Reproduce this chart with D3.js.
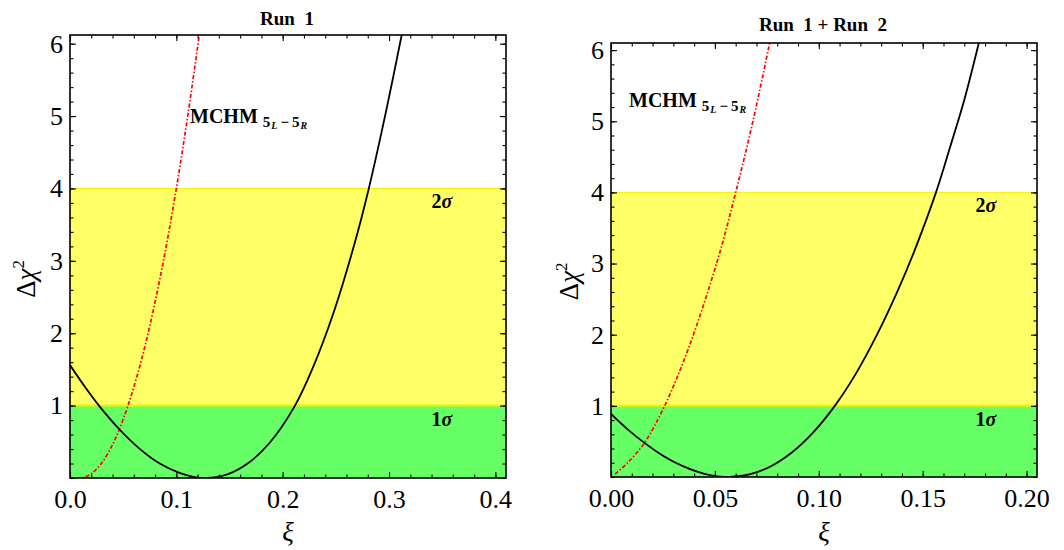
<!DOCTYPE html>
<html>
<head>
<meta charset="utf-8">
<script src="https://cdn.jsdelivr.net/npm/d3@7"></script>
<style>
  html, body { margin: 0; padding: 0; background: #fff; }
  svg { display: block; }
</style>
</head>
<body>
<svg id="chart" width="1064" height="550"></svg>
<script>
// ---- data -------------------------------------------------------------
// Run 1: black (global fit) curve
const run1FitXi   = [0, 0.014, 0.0272, 0.0466, 0.065, 0.0844, 0.103, 0.116, 0.128, 0.148, 0.168, 0.188, 0.2116, 0.228, 0.248, 0.268, 0.281, 0.298, 0.313];
const run1FitChi2 = [1.56, 1.26, 1.0, 0.67, 0.41, 0.2, 0.07, 0.016, 0.0, 0.05, 0.21, 0.49, 1.0, 1.51, 2.29, 3.26, 4.0, 5.12, 6.2];
// Run 1: MCHM 5L-5R (red dot-dashed)
const run1MchmXi   = [0.006, 0.012, 0.02, 0.03, 0.04, 0.0466, 0.0545, 0.065, 0.075, 0.088, 0.1, 0.111, 0.1227];
const run1MchmChi2 = [0.0, 0.005, 0.058, 0.21, 0.46, 0.68, 1.0, 1.51, 2.1, 3.01, 4.0, 5.03, 6.24];
// Run 1 + Run 2: black curve
const run12FitXi   = [0, 0.008, 0.0161, 0.025, 0.0346, 0.045, 0.057, 0.067, 0.077, 0.087, 0.097, 0.1077, 0.118, 0.128, 0.138, 0.1455, 0.1564, 0.163, 0.17, 0.177];
const run12FitChi2 = [0.886, 0.67, 0.48, 0.3, 0.152, 0.045, 0.0, 0.04, 0.152, 0.344, 0.617, 1.0, 1.46, 2.0, 2.62, 3.14, 4.0, 4.62, 5.3, 6.1];
// Run 1 + Run 2: MCHM 5L-5R
const run12MchmXi   = [0.002, 0.008, 0.0161, 0.0258, 0.0378, 0.0515, 0.06, 0.0683, 0.0767];
const run12MchmChi2 = [0.04, 0.2, 0.48, 1.0, 1.85, 3.07, 4.0, 5.0, 6.15];

// confidence bands (Δχ² thresholds) and their labels
const sigmaLevels = [1, 4];
const sigmaLabels = ["1", "2"];

// tick values / labels
const run1XTicks  = [0, 0.1, 0.2, 0.3, 0.4];
const run1XLabels = ["0.0", "0.1", "0.2", "0.3", "0.4"];
const run12XTicks  = [0, 0.05, 0.1, 0.15, 0.2];
const run12XLabels = ["0.00", "0.05", "0.10", "0.15", "0.20"];
const yTicks  = [1, 2, 3, 4, 5, 6];
const yLabels = ["1", "2", "3", "4", "5", "6"];

const titles = ["Run\u00a0\u00a01", "Run\u00a0\u00a01\u00a0+\u00a0Run\u00a0\u00a02"];

// ---- layout -----------------------------------------------------------
const SERIF = "Liberation Serif";
const panels = [
  {
    title: titles[0], xMax: 0.41, yMax: 6.12,
    left: 70, right: 506, top: 35, bottom: 478,
    xTicks: run1XTicks, xLabels: run1XLabels, xMinorStep: 0.02,
    fit: [run1FitXi, run1FitChi2], mchm: [run1MchmXi, run1MchmChi2],
    titleY: 25, yTitleX: 35, labelPos: [190, 123], sigmaX: 442
  },
  {
    title: titles[1], xMax: 0.205, yMax: 6.1,
    left: 611, right: 1037, top: 43, bottom: 477,
    xTicks: run12XTicks, xLabels: run12XLabels, xMinorStep: 0.01,
    fit: [run12FitXi, run12FitChi2], mchm: [run12MchmXi, run12MchmChi2],
    titleY: 31, yTitleX: 578, labelPos: [629, 107], sigmaX: 986
  }
];

const svg = d3.select("#chart");
const defs = svg.append("defs");

panels.forEach((p, i) => {
  const x = d3.scaleLinear().domain([0, p.xMax]).range([p.left, p.right]);
  const y = d3.scaleLinear().domain([0, p.yMax]).range([p.bottom, p.top]);
  const g = svg.append("g").attr("font-family", SERIF);

  const clipId = "clip" + i;
  defs.append("clipPath").attr("id", clipId)
    .append("rect")
    .attr("x", p.left).attr("y", p.top)
    .attr("width", p.right - p.left).attr("height", p.bottom - p.top);

  const plot = g.append("g").attr("clip-path", `url(#${clipId})`);

  // 1σ (green) and 2σ (yellow) bands
  plot.append("rect")
    .attr("x", p.left).attr("width", p.right - p.left)
    .attr("y", y(sigmaLevels[1])).attr("height", y(sigmaLevels[0]) - y(sigmaLevels[1]))
    .attr("fill", "#ffff66");
  plot.append("rect")
    .attr("x", p.left).attr("width", p.right - p.left)
    .attr("y", y(sigmaLevels[0])).attr("height", y(0) - y(sigmaLevels[0]))
    .attr("fill", "#66ff66");
  plot.append("line")
    .attr("x1", p.left).attr("x2", p.right)
    .attr("y1", y(sigmaLevels[1])).attr("y2", y(sigmaLevels[1]))
    .attr("stroke", "#f4f400").attr("stroke-width", 1);
  plot.append("line")
    .attr("x1", p.left).attr("x2", p.right)
    .attr("y1", y(sigmaLevels[0])).attr("y2", y(sigmaLevels[0]))
    .attr("stroke", "#eef000").attr("stroke-width", 2);

  const line = d3.line()
    .x(d => x(d[0])).y(d => y(d[1]))
    .curve(d3.curveCatmullRom.alpha(0.5));

  const fitPts  = d3.zip(p.fit[0], p.fit[1]);
  const mchmPts = d3.zip(p.mchm[0], p.mchm[1]);

  plot.append("path").datum(mchmPts)
    .attr("d", line)
    .attr("fill", "none")
    .attr("stroke", "#ff0000")
    .attr("stroke-width", 1.7)
    .attr("stroke-dasharray", "4,2,1.5,2");

  plot.append("path").datum(fitPts)
    .attr("d", line)
    .attr("fill", "none")
    .attr("stroke", "#000")
    .attr("stroke-width", 1.8);

  // sigma labels
  sigmaLevels.forEach((lv, k) => {
    const t = g.append("text")
      .attr("x", p.sigmaX).attr("y", y(lv) + 20)
      .attr("text-anchor", "middle")
      .attr("font-size", 20).attr("font-weight", "bold");
    t.append("tspan").text(sigmaLabels[k]);
    t.append("tspan").attr("font-style", "italic").text("σ");
  });

  // model label
  const lab = g.append("text")
    .attr("x", p.labelPos[0]).attr("y", p.labelPos[1])
    .attr("font-weight", "bold").attr("font-size", 20);
  lab.append("tspan").text("MCHM");
  lab.append("tspan").attr("dx", 5).attr("dy", 4).attr("font-size", 15).text("5");
  lab.append("tspan").attr("dx", 1).attr("dy", 2).attr("font-size", 10).attr("font-style", "italic").text("L");
  lab.append("tspan").attr("dx", 3).attr("dy", -2).attr("font-size", 15).text("−");
  lab.append("tspan").attr("dx", 3).attr("font-size", 15).text("5");
  lab.append("tspan").attr("dx", 1).attr("dy", 2).attr("font-size", 10).attr("font-style", "italic").text("R");

  // frame ticks: major and minor on all four sides, pointing inward
  const xMinor = d3.range(0, p.xMax + 1e-9, p.xMinorStep);
  const yMinor = d3.range(0, p.yMax + 1e-9, 0.2);
  const tickStyle = sel => {
    sel.attr("font-family", SERIF).attr("font-size", 26);
    sel.select(".domain").remove();
    sel.selectAll(".tick line").attr("stroke", "#000").attr("stroke-width", 1.1);
    sel.selectAll(".tick text").attr("fill", "#000").attr("font-family", SERIF);
  };

  const axes = g.append("g");
  // bottom
  axes.append("g").attr("transform", `translate(0,${p.bottom})`)
    .call(d3.axisBottom(x).tickValues(xMinor).tickSize(-3.5).tickFormat(""))
    .call(tickStyle);
  axes.append("g").attr("transform", `translate(0,${p.bottom})`)
    .call(d3.axisBottom(x).tickValues(p.xTicks).tickSize(-6).tickPadding(12)
      .tickFormat((d, k) => p.xLabels[k]))
    .call(tickStyle);
  // top
  axes.append("g").attr("transform", `translate(0,${p.top})`)
    .call(d3.axisTop(x).tickValues(xMinor).tickSize(-3.5).tickFormat(""))
    .call(tickStyle);
  axes.append("g").attr("transform", `translate(0,${p.top})`)
    .call(d3.axisTop(x).tickValues(p.xTicks).tickSize(-6).tickFormat(""))
    .call(tickStyle);
  // left
  axes.append("g").attr("transform", `translate(${p.left},0)`)
    .call(d3.axisLeft(y).tickValues(yMinor).tickSize(-3.5).tickFormat(""))
    .call(tickStyle);
  axes.append("g").attr("transform", `translate(${p.left},0)`)
    .call(d3.axisLeft(y).tickValues(yTicks).tickSize(-6).tickPadding(7)
      .tickFormat((d, k) => yLabels[k]))
    .call(tickStyle);
  // right
  axes.append("g").attr("transform", `translate(${p.right},0)`)
    .call(d3.axisRight(y).tickValues(yMinor).tickSize(-3.5).tickFormat(""))
    .call(tickStyle);
  axes.append("g").attr("transform", `translate(${p.right},0)`)
    .call(d3.axisRight(y).tickValues(yTicks).tickSize(-6).tickFormat(""))
    .call(tickStyle);

  // frame
  g.append("rect")
    .attr("x", p.left).attr("y", p.top)
    .attr("width", p.right - p.left).attr("height", p.bottom - p.top)
    .attr("fill", "none").attr("stroke", "#000").attr("stroke-width", 1.6);

  // title
  g.append("text")
    .attr("x", (p.left + p.right) / 2 - 1).attr("y", p.titleY)
    .attr("text-anchor", "middle")
    .attr("font-weight", "bold").attr("font-size", 19)
    .text(p.title);

  // x-axis title
  g.append("text")
    .attr("x", (p.left + p.right) / 2).attr("y", 541)
    .attr("text-anchor", "middle")
    .attr("font-style", "italic").attr("font-size", 27)
    .text("ξ");

  // y-axis title Δχ²
  const yt = g.append("text")
    .attr("transform", `translate(${p.yTitleX},${(y(3) + y(2.5)) / 2}) rotate(-90)`)
    .attr("text-anchor", "middle")
    .attr("font-size", 27);
  yt.append("tspan").text("Δ");
  yt.append("tspan").attr("font-style", "italic").text("χ");
  yt.append("tspan").attr("font-size", 17).attr("dy", -11).text("2");
});
</script>
</body>
</html>
